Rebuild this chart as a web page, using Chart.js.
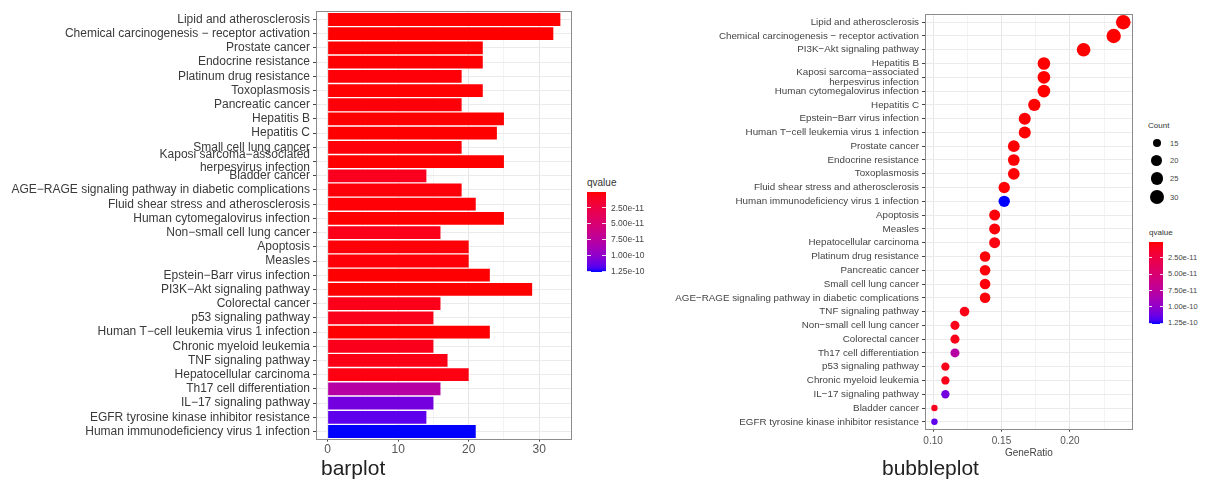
<!DOCTYPE html>
<html>
<head>
<meta charset="utf-8">
<script src="https://cdn.jsdelivr.net/npm/chart.js@4.4.1/dist/chart.umd.min.js"></script>
<style>
  body { margin: 0; background: #fff; font-family: 'Liberation Sans', Arial, sans-serif; }
  #page { position: relative; width: 1205px; height: 480px; overflow: hidden; background: #fff; }
  .box { position: absolute; }
  .txt { position: absolute; white-space: nowrap; color: #333; line-height: 1; }
</style>
</head>
<body>
<div id="page">
  <div class="box" style="left:0;top:0;width:580px;height:480px"><canvas id="barChart"></canvas></div>
  <div class="box" style="left:640px;top:0;width:500px;height:480px"><canvas id="bubbleChart"></canvas></div>
  <div class="txt" style="left:321px;top:457px;font-size:21px;color:#222">barplot</div>
  <div class="txt" style="left:882px;top:457px;font-size:21px;color:#222">bubbleplot</div>
</div>
<script>
// pathways in the barplot order (top to bottom)
const pathways = [
  'Lipid and atherosclerosis',
  'Chemical carcinogenesis \u2212 receptor activation',
  'Prostate cancer',
  'Endocrine resistance',
  'Platinum drug resistance',
  'Toxoplasmosis',
  'Pancreatic cancer',
  'Hepatitis B',
  'Hepatitis C',
  'Small cell lung cancer',
  'Kaposi sarcoma\u2212associated\nherpesvirus infection',
  'Bladder cancer',
  'AGE\u2212RAGE signaling pathway in diabetic complications',
  'Fluid shear stress and atherosclerosis',
  'Human cytomegalovirus infection',
  'Non\u2212small cell lung cancer',
  'Apoptosis',
  'Measles',
  'Epstein\u2212Barr virus infection',
  'PI3K\u2212Akt signaling pathway',
  'Colorectal cancer',
  'p53 signaling pathway',
  'Human T\u2212cell leukemia virus 1 infection',
  'Chronic myeloid leukemia',
  'TNF signaling pathway',
  'Hepatocellular carcinoma',
  'Th17 cell differentiation',
  'IL\u221217 signaling pathway',
  'EGFR tyrosine kinase inhibitor resistance',
  'Human immunodeficiency virus 1 infection'
];
const counts = [33, 32, 22, 22, 19, 22, 19, 25, 24, 19, 25, 14, 19, 21, 25,
                16, 20, 20, 23, 29, 16, 15, 23, 15, 17, 20, 16, 15, 14, 21];
const geneRatios = [0.239, 0.232, 0.159, 0.159, 0.138, 0.159, 0.138, 0.181, 0.174, 0.138,
                    0.181, 0.101, 0.138, 0.152, 0.181, 0.116, 0.145, 0.145, 0.167, 0.210,
                    0.116, 0.109, 0.167, 0.109, 0.123, 0.145, 0.116, 0.109, 0.101, 0.152];
const qvalues = [3.2e-15, 8.5e-15, 4.0e-13, 5.0e-13, 1.6e-12, 6.0e-13, 1.8e-12, 1.2e-13, 3.0e-13, 1.8e-12,
                 1.2e-13, 7.5e-12, 1.8e-12, 1.2e-12, 1.2e-13, 5.5e-12, 1.4e-12, 1.4e-12, 4.0e-13, 6.8e-14,
                 5.5e-12, 6.5e-12, 4.0e-13, 6.5e-12, 5.0e-12, 3.5e-12, 7.8e-11, 1.1e-10, 1.16e-10, 1.26e-10];

// bubbleplot order (top to bottom)
const bubbleOrder = [
  'Lipid and atherosclerosis',
  'Chemical carcinogenesis \u2212 receptor activation',
  'PI3K\u2212Akt signaling pathway',
  'Hepatitis B',
  'Kaposi sarcoma\u2212associated\nherpesvirus infection',
  'Human cytomegalovirus infection',
  'Hepatitis C',
  'Epstein\u2212Barr virus infection',
  'Human T\u2212cell leukemia virus 1 infection',
  'Prostate cancer',
  'Endocrine resistance',
  'Toxoplasmosis',
  'Fluid shear stress and atherosclerosis',
  'Human immunodeficiency virus 1 infection',
  'Apoptosis',
  'Measles',
  'Hepatocellular carcinoma',
  'Platinum drug resistance',
  'Pancreatic cancer',
  'Small cell lung cancer',
  'AGE\u2212RAGE signaling pathway in diabetic complications',
  'TNF signaling pathway',
  'Non\u2212small cell lung cancer',
  'Colorectal cancer',
  'Th17 cell differentiation',
  'p53 signaling pathway',
  'Chronic myeloid leukemia',
  'IL\u221217 signaling pathway',
  'Bladder cancer',
  'EGFR tyrosine kinase inhibitor resistance'
];

const barTicks = [0, 5, 10, 15, 20, 25, 30];
const barMajor = [0, 10, 20, 30];
const ratioTicks = [0.10, 0.125, 0.15, 0.175, 0.20, 0.225];
const ratioMajor = [0.10, 0.15, 0.20];
const countBreaks = [15, 20, 25, 30];
const qBreaks = [2.5e-11, 5.0e-11, 7.5e-11, 1.0e-10, 1.25e-10];
const qBreakLabels = ['2.50e-11', '5.00e-11', '7.50e-11', '1.00e-10', '1.25e-10'];

const FONT = "'Liberation Sans', Arial, sans-serif";

// red -> blue gradient in Lab space, like ggplot's scale_fill_gradient
function toLin(c) { c /= 255; return c <= 0.04045 ? c / 12.92 : Math.pow((c + 0.055) / 1.055, 2.4); }
function toSrgb(c) {
  const v = c <= 0.0031308 ? 12.92 * c : 1.055 * Math.pow(c, 1 / 2.4) - 0.055;
  return Math.round(Math.max(0, Math.min(1, v)) * 255);
}
function rgbToLab(rgb) {
  const r = toLin(rgb[0]), g = toLin(rgb[1]), b = toLin(rgb[2]);
  const x = (0.4124 * r + 0.3576 * g + 0.1805 * b) / 0.95047;
  const y = 0.2126 * r + 0.7152 * g + 0.0722 * b;
  const z = (0.0193 * r + 0.1192 * g + 0.9505 * b) / 1.08883;
  const f = t => t > 0.008856 ? Math.cbrt(t) : 7.787 * t + 16 / 116;
  return [116 * f(y) - 16, 500 * (f(x) - f(y)), 200 * (f(y) - f(z))];
}
function labToRgb(lab) {
  const fy = (lab[0] + 16) / 116, fx = fy + lab[1] / 500, fz = fy - lab[2] / 200;
  const fi = t => t * t * t > 0.008856 ? t * t * t : (t - 16 / 116) / 7.787;
  const x = fi(fx) * 0.95047, y = fi(fy), z = fi(fz) * 1.08883;
  return [toSrgb(3.2406 * x - 1.5372 * y - 0.4986 * z),
          toSrgb(-0.9689 * x + 1.8758 * y + 0.0415 * z),
          toSrgb(0.0557 * x - 0.2040 * y + 1.0570 * z)];
}
const labLow = rgbToLab([255, 0, 0]);
const labHigh = rgbToLab([0, 0, 255]);
const qMin = Math.min(...qvalues), qMax = Math.max(...qvalues);
function rampColor(t) {
  const lab = labLow.map((v, i) => v + (labHigh[i] - v) * t);
  const c = labToRgb(lab);
  return 'rgb(' + c[0] + ',' + c[1] + ',' + c[2] + ')';
}
function qColor(q) { return rampColor((q - qMin) / (qMax - qMin)); }

const cMin = Math.min(...counts), cMax = Math.max(...counts);
function radiusFor(c) { return 3.2 + 4.1 * Math.sqrt((c - cMin) / (cMax - cMin)); }

function splitLabel(label) { return label.indexOf('\n') >= 0 ? label.split('\n') : label; }

// theme_bw style panel border, set out by ggplot's 0.6 discrete expansion
const panelBorder = {
  id: 'panelBorder',
  afterDatasetsDraw(chart) {
    const a = chart.chartArea;
    const n = chart.scales.y.getLabels().length;
    const out = (a.bottom - a.top) / n * 0.1;
    const ctx = chart.ctx;
    ctx.save();
    ctx.strokeStyle = '#8c8c8c';
    ctx.lineWidth = 1;
    ctx.strokeRect(Math.round(a.left) + 0.5, Math.round(a.top - out) + 0.5,
                   Math.round(a.right - a.left) - 1, Math.round(a.bottom - a.top + 2 * out) - 1);
    ctx.restore();
  }
};

function gridColor(majors) {
  return ctx => majors.includes(ctx.tick.value) ? '#e6e6e6' : '#f3f3f3';
}
function tickColor(majors) {
  return ctx => majors.includes(ctx.tick.value) ? '#444' : 'rgba(0,0,0,0)';
}

// ---------- barplot ----------
new Chart(document.getElementById('barChart'), {
  type: 'bar',
  data: {
    labels: pathways,
    datasets: [{
      data: counts,
      backgroundColor: qvalues.map(qColor),
      borderWidth: 0,
      categoryPercentage: 0.9,
      barPercentage: 1.0
    }]
  },
  options: {
    indexAxis: 'y',
    responsive: true,
    maintainAspectRatio: false,
    devicePixelRatio: 1,
    animation: false,
    events: [],
    layout: { padding: { top: 12.4, right: 8, left: 0, bottom: 0 } },
    plugins: { legend: { display: false }, tooltip: { enabled: false } },
    scales: {
      x: {
        type: 'linear',
        min: -0.05 * cMax,
        max: 1.05 * cMax,
        afterBuildTicks: s => { s.ticks = barTicks.map(v => ({ value: v })); },
        afterFit: s => { s.height = 41.4; },
        border: { display: false },
        grid: { color: gridColor(barMajor), tickColor: tickColor(barMajor), tickLength: 3, lineWidth: 1 },
        ticks: {
          autoSkip: false, maxRotation: 0, padding: 1,
          color: '#555', font: { family: FONT, size: 12 },
          callback: v => barMajor.includes(v) ? String(v) : ''
        }
      },
      y: {
        afterFit: s => { s.width = 316; },
        border: { display: false },
        grid: { offset: false, color: '#ebebeb', tickColor: '#444', tickLength: 3 },
        ticks: {
          autoSkip: false, padding: 3,
          color: '#3a3a3a', font: { family: FONT, size: 12, lineHeight: 1.08 },
          callback: function (v) { return splitLabel(this.getLabelForValue(v)); }
        }
      }
    }
  },
  plugins: [panelBorder]
});

// ---------- bubbleplot ----------
const bubbleData = bubbleOrder.map(name => {
  const i = pathways.indexOf(name);
  return { x: geneRatios[i], y: name, r: radiusFor(counts[i]), q: qvalues[i] };
});
const rMin = Math.min(...geneRatios), rMax = Math.max(...geneRatios);

new Chart(document.getElementById('bubbleChart'), {
  type: 'bubble',
  data: {
    labels: bubbleOrder,
    datasets: [{
      data: bubbleData,
      backgroundColor: bubbleData.map(d => qColor(d.q)),
      borderWidth: 0,
      clip: false
    }]
  },
  options: {
    responsive: true,
    maintainAspectRatio: false,
    devicePixelRatio: 1,
    animation: false,
    events: [],
    layout: { padding: { top: 15.3, right: 6, left: 0, bottom: 0 } },
    plugins: { legend: { display: false }, tooltip: { enabled: false } },
    scales: {
      x: {
        type: 'linear',
        min: rMin - 0.05 * (rMax - rMin),
        max: rMax + 0.05 * (rMax - rMin),
        afterBuildTicks: s => { s.ticks = ratioTicks.map(v => ({ value: v })); },
        afterFit: s => { s.height = 51.3; },
        border: { display: false },
        grid: { color: gridColor(ratioMajor), tickColor: tickColor(ratioMajor), tickLength: 3 },
        ticks: {
          autoSkip: false, maxRotation: 0, padding: 3.5,
          color: '#555', font: { family: FONT, size: 10 },
          callback: v => ratioMajor.includes(v) ? v.toFixed(2) : ''
        },
        title: {
          display: true, text: 'GeneRatio', color: '#444',
          font: { family: FONT, size: 10 }, padding: { top: 0, bottom: 20.5 }
        }
      },
      y: {
        type: 'category',
        labels: bubbleOrder,
        offset: true,
        afterFit: s => { s.width = 285; },
        border: { display: false },
        grid: { offset: false, color: '#ebebeb', tickColor: '#444', tickLength: 3 },
        ticks: {
          autoSkip: false, padding: 3,
          color: '#444', font: { family: FONT, size: 9.8, lineHeight: 1.1 },
          callback: function (v) { return splitLabel(this.getLabelForValue(v)); }
        }
      }
    }
  },
  plugins: [panelBorder]
});

// ---------- legends ----------
const page = document.getElementById('page');
function addText(text, left, centerY, size, color) {
  const d = document.createElement('div');
  d.className = 'txt';
  d.textContent = text;
  d.style.left = left + 'px';
  d.style.top = (centerY - size / 2) + 'px';
  d.style.fontSize = size + 'px';
  if (color) d.style.color = color;
  page.appendChild(d);
}
function colorbar(left, top, width, height, titleY, titleSize, labelSize) {
  addText('qvalue', left, titleY, titleSize, '#333');
  const stops = [];
  for (let k = 0; k <= 20; k++) stops.push(rampColor(k / 20) + ' ' + (k * 5) + '%');
  const bar = document.createElement('div');
  bar.style.cssText = 'position:absolute;left:' + left + 'px;top:' + top + 'px;width:' + width +
    'px;height:' + height + 'px;background:linear-gradient(to bottom,' + stops.join(',') + ')';
  page.appendChild(bar);
  qBreaks.forEach((q, i) => {
    const y = top + (q - qMin) / (qMax - qMin) * height;
    [left, left + width - width / 5].forEach(x => {
      const t = document.createElement('div');
      t.style.cssText = 'position:absolute;left:' + x + 'px;top:' + (y - 0.5) + 'px;width:' +
        (width / 5) + 'px;height:1px;background:rgba(255,255,255,0.85)';
      page.appendChild(t);
    });
    addText(qBreakLabels[i], left + width + 5, y, labelSize, '#444');
  });
}
colorbar(587, 192, 19, 80, 183, 10, 8.5);
colorbar(1149, 241.7, 14, 82, 233, 8, 7.5);

// Count size legend
addText('Count', 1148, 126, 8, '#333');
const countY = [143.3, 160.7, 178.3, 197.3];
countBreaks.forEach((c, i) => {
  const r = radiusFor(c);
  const dot = document.createElement('div');
  dot.style.cssText = 'position:absolute;left:' + (1157 - r) + 'px;top:' + (countY[i] - r) +
    'px;width:' + (2 * r) + 'px;height:' + (2 * r) + 'px;border-radius:50%;background:#000';
  page.appendChild(dot);
  addText(String(c), 1170, countY[i], 7.5, '#444');
});
</script>
</body>
</html>
